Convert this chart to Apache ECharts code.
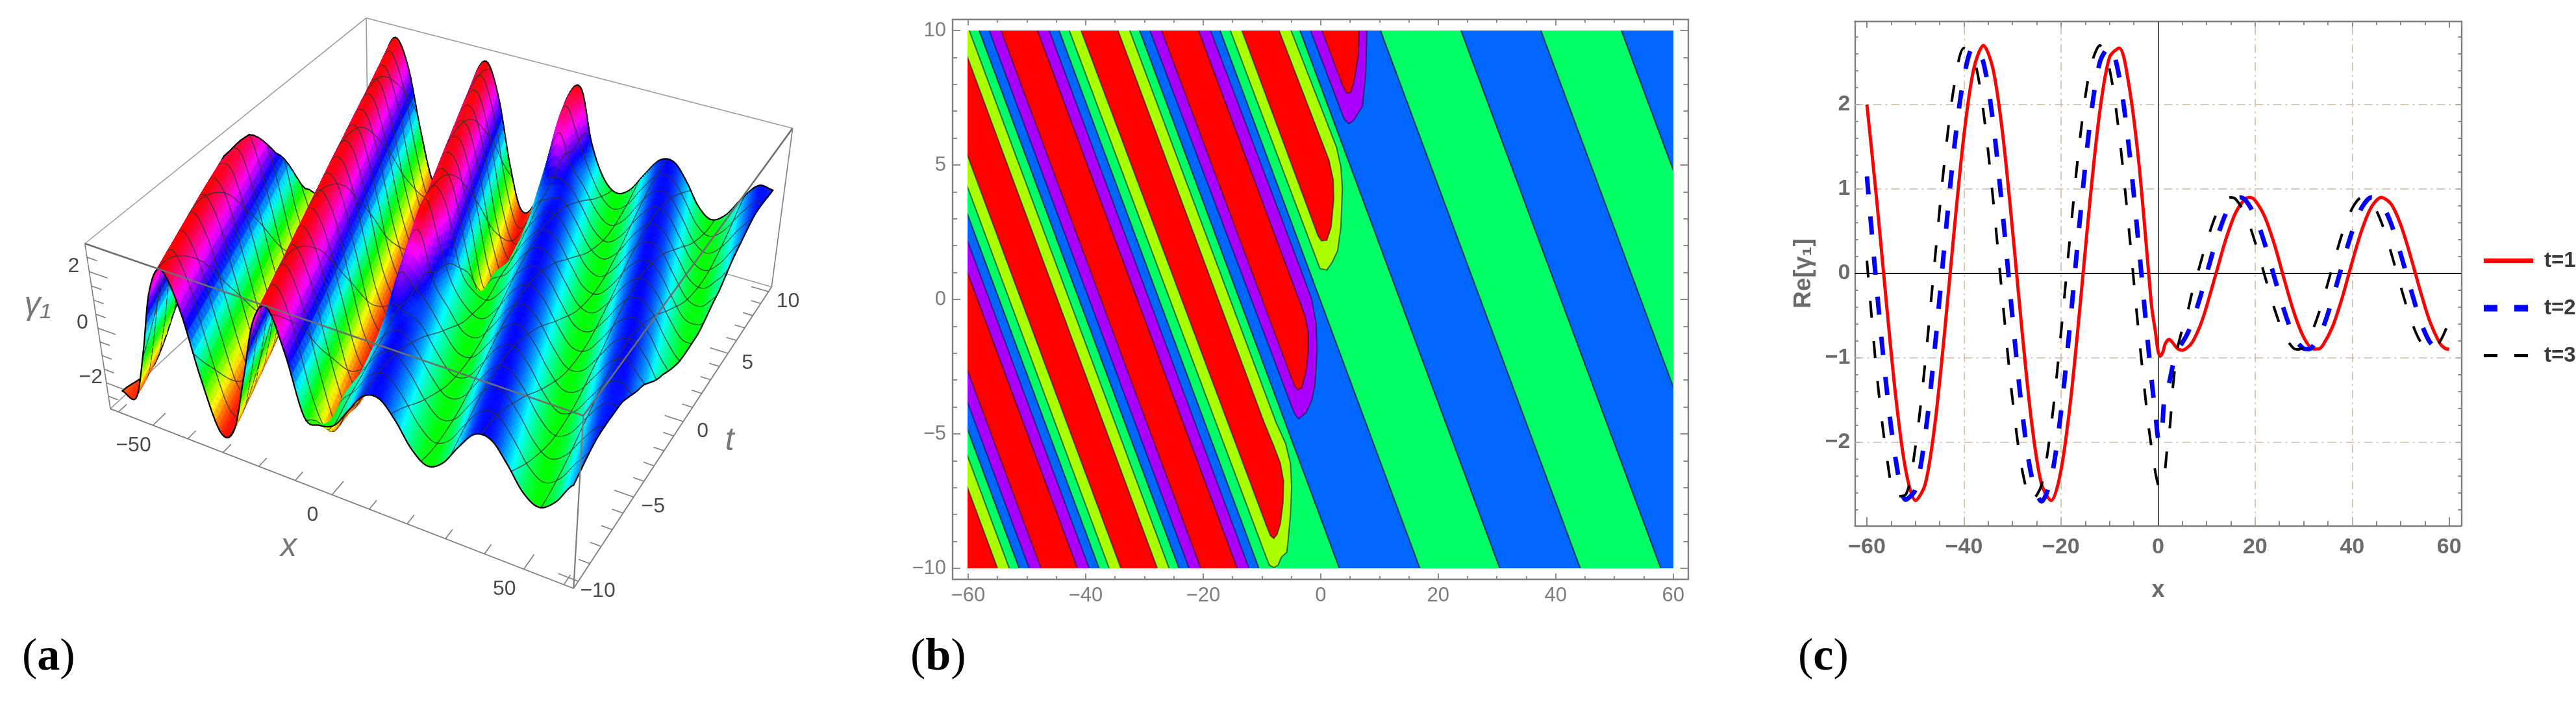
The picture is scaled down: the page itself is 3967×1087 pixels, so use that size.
<!DOCTYPE html>
<html>
<head>
<meta charset="utf-8">
<title>Figure</title>
<style>html,body{margin:0;padding:0;background:#fff}#main{width:3967px;height:1087px}</style>
<script src="https://cdn.jsdelivr.net/npm/echarts@6/dist/echarts.min.js"></script>
</head>
<body>
<div id="main"></div>
<script>
// ---------- panel (a): surface height, one row per t
var surfX = [-60,-56,-52,-48,-44,-40,-36,-32,-28,-24,-20,-16,-12,-8,-4,0,4,8,12,16,20,24,28,32,36,40,44,48,52,56,60];
var surfT = [-10,-8,-6,-4,-2,0,2,4,6,8,10];
var zTm10 = [-2.39,-2.45,-.58,1.74,2.70,1.54,-.82,-2.54,-2.27,-.22,2.00,2.65,1.23,-.78,-.88,-.68,.05,.74,.85,.30,-.50,-.90,-.60,.17,.81,.81,.18,-.59,-.90,-.50,.29];
var zTm8 = [-2.56,-.88,1.49,2.69,1.79,-.52,-2.42,-2.42,-.52,1.78,2.69,1.49,-.88,-2.39,-.75,-.05,.68,.88,.39,-.41,-.88,-.67,.07,.76,.85,.28,-.51,-.90,-.58,.19,.82];
var zTm6 = [-1.17,1.22,2.65,2.00,-.22,-2.27,-2.54,-.82,1.54,2.70,1.74,-.58,-2.45,-2.39,-.25,.61,.90,.48,-.31,-.86,-.73,-.03,.69,.88,.37,-.42,-.89,-.66,.09,.77,.84];
var zTm4 = [.94,2.58,2.20,.10,-2.08,-2.63,-1.12,1.27,2.66,1.97,-.27,-2.30,-2.52,-.77,1.27,.90,.57,-.21,-.82,-.79,-.14,.62,.89,.46,-.33,-.87,-.72,-.01,.71,.87,.35];
var zTm2 = [2.47,2.36,.40,-1.87,-2.68,-1.39,.99,2.60,2.16,.04,-2.12,-2.62,-1.06,1.33,2.67,.77,-.11,-.78,-.83,-.24,.55,.90,.55,-.23,-.83,-.78,-.12,.64,.89,.45,-.35];
var zT0 = [2.50,.71,-1.64,-2.70,-1.64,.70,2.50,2.34,.34,-1.92,-2.67,-1.34,1.05,2.61,2.13,-.02,-.72,-.87,-.33,.46,.89,.63,-.13,-.79,-.83,-.22,.56,.90,.53,-.25,-.84];
var zT2 = [1.00,-1.38,-2.68,-1.88,.40,2.36,2.47,.65,-1.69,-2.70,-1.59,.76,2.52,2.30,.28,-1.83,-.89,-.43,.37,.88,.70,-.03,-.73,-.86,-.32,.48,.90,.61,-.15,-.80,-.82];
var zT4 = [-1.11,-2.63,-2.09,.09,2.20,2.58,.94,-1.44,-2.69,-1.83,.46,2.39,2.45,.59,-1.74,-2.70,-.82,.27,.85,.76,.07,-.67,-.89,-.41,.39,.88,.68,-.05,-.74,-.85,-.30];
var zT6 = [-2.54,-2.27,-.22,2.00,2.66,1.23,-1.16,-2.64,-2.05,.15,2.23,2.56,.89,-1.48,-2.69,-1.79,.41,.81,.81,.18,-.59,-.90,-.50,.29,.85,.75,.05,-.68,-.88,-.39,.40];
var zT8 = [-2.42,-.53,1.78,2.69,1.49,-.88,-2.56,-2.24,-.16,2.04,2.64,1.17,-1.22,-2.65,-2.01,.21,2.26,1.02,.28,-.51,-.90,-.58,.19,.81,.80,.16,-.61,-.90,-.48,.31,.86];
var zT10 = [-.83,1.54,2.70,1.74,-.58,-2.45,-2.39,-.47,1.83,2.69,1.44,-.93,-2.58,-2.20,-.10,2.08,2.63,.75,-.42,-.89,-.66,.09,.77,.84,.26,-.53,-.90,-.57,.21,.82,.79];
var zRows = [zTm10,zTm8,zTm6,zTm4,zTm2,zT0,zT2,zT4,zT6,zT8,zT10];
var surfXTicks = [-60,-50,-40,-30,-20,-10,0,10,20,30,40,50,60];
var surfTTicks = [-10,-9,-8,-7,-6,-5,-4,-3,-2,-1,0,1,2,3,4,5,6,7,8,9,10];
var surfZTicks = [-2.5,-2,-1.5,-1,-.5,0,.5,1,1.5,2,2.5];
var surfXLabels = [-50,0,50];
var surfTLabels = [-10,-5,0,5,10];
var surfZLabels = [-2,0,2];

// ---------- panel (b): contour bands, x is read where the band meets t=-10
var crossings = [-65,-51.3,-37.7,-24.1,-10.5,3.2,16.9,30.5,44.2,57.9,71.5,85.2,98.8];
var stripeDrift = 1.7;
var bandInset = 1.7;
var redInset = 3.7;
var tipA = [[-7.61,-4.57],[-5.96,-5.36],[-5.15,-6.09],[-4.93,-6.98],[-5.15,-8.02],[-5.59,-9.08],[-5.77,-9.40],[-6.7,-9.59],[-7.25,-9.88],[-7.98,-9.98],[-8.72,-9.88],[-9.26,-9.59]];
var tipARed = [[-9.64,-4.57],[-7.98,-5.45],[-6.87,-6.09],[-6.32,-6.74],[-6.4,-7.54],[-6.87,-8.35],[-7.43,-8.74],[-7.98,-8.89],[-8.53,-8.79],[-9.08,-8.5]];
var tipB = [[-4.85,1.96],[-1.54,.02],[-.80,-.86],[-.62,-1.91],[-.98,-3.2],[-1.54,-3.76],[-2.45,-4.2],[-3.74,-4.44],[-4.49,-4.24]];
var tipBRed = [[-7.06,1.96],[-2.64,-.62],[-2.09,-1.26],[-2.09,-1.91],[-2.45,-2.63],[-3.19,-3.28],[-3.93,-3.36],[-4.49,-3.2]];
var tipC = [[2.70,5.66],[3.44,4.93],[3.69,4.13],[3.44,2.68],[2.88,1.80],[1.97,1.39],[1.04,1.09],[-.13,1.15]];
var tipCRed = [[1.41,5.18],[2.14,4.45],[2.22,3.73],[1.77,2.68],[1.04,2.20],[.12,2.18],[-.43,2.36]];
var tipD = [[7.9,12],[7.86,10],[7.67,8.4],[7.12,7.19],[5.65,6.67],[4.8,6.53],[3.99,6.71]];
var tipDRed = [[6.6,12],[6.56,10],[6.39,9.04],[5.65,8.07],[5.10,7.69],[4.36,7.69],[3.80,7.92]];
var bXLabels = [-60,-40,-20,0,20,40,60];
var bXMinor = [-55,-50,-45,-35,-30,-25,-15,-10,-5,5,10,15,25,30,35,45,50,55];
var bYLabels = [-10,-5,0,5,10];
var bYMinor = [-9,-8,-7,-6,-4,-3,-2,-1,1,2,3,4,6,7,8,9];

// ---------- panel (c): profiles
var t1X = [-60,-58,-56,-54,-52,-50,-48,-46,-44,-42,-40,-38,-36,-34,-32,-30,-28,-26,-24,-22,-20,-18,-16,-14,-12,-10,-8,-6,-4,-2,-1.3,-.5,0,.5,1,1.5,2.3,3,4,5,6,7,8,9,10,11,12,14,16,18,19,20,22,24,26,28,30,32,33,34,36,38,40,42,44,46,48,50,52,54,56,58,59,60];
var t1Y = [2,.88,-.34,-1.49,-2.33,-2.69,-2.5,-1.79,-.7,.52,1.64,2.42,2.7,2.42,1.64,.52,-.7,-1.79,-2.5,-2.69,-2.33,-1.49,-.34,.88,1.92,2.56,2.67,2.23,1.33,.05,-.4,-.71,-.92,-.98,-.93,-.83,-.78,-.82,-.89,-.91,-.88,-.82,-.71,-.57,-.39,-.19,.01,.41,.72,.885,.9,.866,.67,.34,-.07,-.46,-.755,-.894,-.894,-.847,-.625,-.278,.135,.516,.79,.9,.824,.578,.212,-.198,-.567,-.82,-.882,-.9];
var t2X = [-60,-58,-56,-54,-52,-50,-48,-46,-44,-42,-40,-38,-36,-34,-32,-30,-28,-26,-24,-22,-20,-18,-16,-14,-12,-10,-8,-6,-4,-2,-1,-.5,0,.5,.9,1.3,2.2,3,3.6,4.4,5,6,7,8,9,10,12,14,16,17,18,20,22,24,26,28,30,31,32,34,36,38,40,42,44,46,48,50,52,54,56,58,60];
var t2Y = [1.15,-.16,-1.33,-2.23,-2.68,-2.56,-1.92,-.88,.34,1.49,2.33,2.69,2.5,1.79,.7,-.52,-1.64,-2.42,-2.7,-2.42,-1.64,-.52,.7,1.79,2.5,2.69,2.33,1.49,.34,-.88,-1.44,-1.68,-1.95,-1.98,-1.8,-1.49,-1.32,-1.1,-.94,-.87,-.82,-.72,-.58,-.41,-.22,-.01,.39,.71,.88,.9,.87,.68,.35,-.05,-.44,-.745,-.89,-.896,-.855,-.64,-.29,.11,.496,.78,.9,.83,.595,.23,-.17,-.55,-.81,-.9,-.81];
var t3X = [-60,-58,-56,-54,-52,-50,-48,-46,-44,-42,-40,-38,-36,-34,-32,-30,-28,-26,-24,-22,-20,-18,-16,-14,-12,-10,-8,-6,-4,-2,-1.5,-1,0,.7,1.2,1.8,2.3,2.7,2.9,3.5,3.8,4.9,5.9,7,8,10,12,14,15,16,18,20,22,24,26,28,29,30,32,34,36,38,40,42,44,46,48,50,52,54,56,58,60];
var t3Y = [.15,-1.17,-2.13,-2.64,-2.62,-2.05,-1.06,.16,1.33,2.23,2.67,2.56,1.92,.88,-.34,-1.49,-2.33,-2.69,-2.5,-1.79,-.7,.52,1.64,2.42,2.7,2.42,1.64,.52,-.7,-1.79,-2,-2.2,-2.5,-2.53,-2.45,-2.12,-1.9,-1.63,-1.44,-1.1,-.94,-.68,-.5,-.23,-.03,.37,.7,.88,.9,.88,.7,.37,-.03,-.42,-.73,-.89,-.9,-.86,-.65,-.31,.09,.48,.77,.9,.84,.61,.25,-.155,-.53,-.8,-.9,-.815,-.565];
var cXLabels = [-60,-40,-20,0,20,40,60];
var cXMinor = [-55,-50,-45,-35,-30,-25,-15,-10,-5,5,10,15,25,30,35,45,50,55];
var cYLabels = [-2,-1,0,1,2];
var cYMinor = [-2.8,-2.6,-2.4,-2.2,-1.8,-1.6,-1.4,-1.2,-.8,-.6,-.4,-.2,.2,.4,.6,.8,1.2,1.4,1.6,1.8,2.2,2.4,2.6,2.8];
var cGridX = [-40,-20,20,40];
var cGridY = [-2,-1,1,2];

function minusText(v) { return String(v).replace('-', '\u2212'); }

// ---------- projection of the 3D box onto panel (a)
var boxRange = {x: 62.4, t: 10.4, z: 2.97};
var corner = {
	// name: x side, t side, z side
	l0: [170, 629.3], f0: [883.3, 906], r0: [1188.3, 441.7], b0: [567, 262],
	l1: [130.7, 375], f1: [898.3, 640], r1: [1220.6, 197.6], b1: [564, 27.7]
};
function project(x, t, z) {
	var a = (x + boxRange.x) / (2 * boxRange.x);
	var b = (t + boxRange.t) / (2 * boxRange.t);
	var c = (z + boxRange.z) / (2 * boxRange.z);
	var items = [
		[corner.l0, 0, 0, 0], [corner.f0, 1, 0, 0], [corner.b0, 0, 1, 0], [corner.r0, 1, 1, 0],
		[corner.l1, 0, 0, 1], [corner.f1, 1, 0, 1], [corner.b1, 0, 1, 1], [corner.r1, 1, 1, 1]
	];
	var sx = 0, sy = 0, sw = 0;
	for (var i = 0; i < 8; i++) {
		var it = items[i];
		var wc = 1 + 0.09 * (1 - it[1]) + 0.24 * it[2] - 0.05 * it[3];
		var k = (it[1] ? a : 1 - a) * (it[2] ? b : 1 - b) * (it[3] ? c : 1 - c) * wc;
		sx += k * it[0][0];
		sy += k * it[0][1];
		sw += k;
	}
	return [sx / sw, sy / sw];
}
function catmull(p0, p1, p2, p3, s) {
	return 0.5 * (2 * p1 + (p2 - p0) * s + (2 * p0 - 5 * p1 + 4 * p2 - p3) * s * s + (3 * p1 - p0 - 3 * p2 + p3) * s * s * s);
}
// one typed row, looked up at x
function rowAt(r, x) {
	var row = zRows[r];
	var fx = (x - surfX[0]) / 4;
	var ix = Math.max(0, Math.min(Math.floor(fx), surfX.length - 2));
	var last = surfX.length - 1;
	return catmull(row[Math.max(0, ix - 1)], row[ix], row[ix + 1], row[Math.min(last, ix + 2)], fx - ix);
}
// between rows we follow the ridges, they lean by ridgeLean in x per unit of t
var ridgeLean = 1.75;
function surfaceZ(x, t) {
	var ft = (t - surfT[0]) / 2;
	var it = Math.min(Math.floor(ft), surfT.length - 2);
	var st = ft - it, vals = [], ok = true;
	for (var j = -1; j <= 2; j++) {
		var r = Math.max(0, Math.min(surfT.length - 1, it + j));
		var xr = x + ridgeLean * (t - surfT[r]);
		if (xr < -60 || xr > 60) ok = false;
		vals.push(rowAt(r, Math.max(-60, Math.min(60, xr))));
	}
	if (ok) return catmull(vals[0], vals[1], vals[2], vals[3], st);
	// next to the plot edge one of the rows runs out, keep to the row that does not
	var xa = x + ridgeLean * (t - surfT[it]), xb = x + ridgeLean * (t - surfT[it + 1]);
	var okA = xa >= -60 && xa <= 60, okB = xb >= -60 && xb <= 60;
	if (okA && okB) return vals[1] + (vals[2] - vals[1]) * st;
	return okA ? vals[1] : vals[2];
}
function hsv(h, s, v) {
	h = ((h % 360) + 360) % 360;
	var c = v * s, m = v - c, q = c * (1 - Math.abs((h / 60) % 2 - 1));
	var rgb = h < 60 ? [c, q, 0] : h < 120 ? [q, c, 0] : h < 180 ? [0, c, q] : h < 240 ? [0, q, c] : h < 300 ? [q, 0, c] : [c, 0, q];
	return 'rgb(' + rgb.map(function (n) { return Math.round((n + m) * 255); }).join(',') + ')';
}

// cell diagonal runs along the ridges: 120/224 in x per 20/64 in t
var stepsX = 224, stepsT = 64;
var meshEveryX = 14, meshEveryT = 4;
var stepX = 120 / stepsX, stepT = 20 / stepsT;
var surfZ = [], surfV = [], facets = [];
for (var jt = 0; jt <= stepsT; jt++) {
	surfZ.push([]); surfV.push([]);
	for (var ix = 0; ix <= stepsX; ix++) {
		var px = -60 + stepX * ix, pt = -10 + stepT * jt;
		var pz = surfaceZ(px, pt);
		surfZ[jt].push(pz);
		surfV[jt].push(project(px, pt, pz));
	}
}
// far corner first, so nearer facets paint over
for (var ft = stepsT - 1; ft >= 0; ft--) {
	for (var fx = 0; fx < stepsX; fx++) facets.push([fx, ft]);
}
function facetColor(z, lit) {
	return hsv(180 + 66.67 * z, 1, 0.92 + 0.08 * Math.min(1, lit + 0.25));
}
function renderFacet(params, api) {
	var ix = api.value(0), it = api.value(1);
	var a = api.coord(surfV[it + 1][ix]), b = api.coord(surfV[it + 1][ix + 1]);
	var c = api.coord(surfV[it][ix + 1]), d = api.coord(surfV[it][ix]);
	var za = surfZ[it + 1][ix], zb = surfZ[it + 1][ix + 1], zc = surfZ[it][ix + 1], zd = surfZ[it][ix];
	var dzx = (zc + zb - zd - za) / 2 / stepX;
	var dzt = (za + zb - zd - zc) / 2 / stepT;
	var lit = 1 / Math.sqrt(1 + dzx * dzx * 4 + dzt * dzt * 0.3);
	var col1 = facetColor((za + zb + zc) / 3, lit), col2 = facetColor((za + zc + zd) / 3, lit);
	var kids = [
		{type: 'polygon', shape: {points: [a, b, c]}, style: {fill: col1, stroke: col1, lineWidth: 0.7}},
		{type: 'polygon', shape: {points: [a, c, d]}, style: {fill: col2, stroke: col2, lineWidth: 0.7}}
	];
	function edge(p, q, color, w) {
		kids.push({type: 'line', shape: {x1: p[0], y1: p[1], x2: q[0], y2: q[1]}, style: {stroke: color, lineWidth: w, lineCap: 'round'}});
	}
	if (ix % meshEveryX === 0 && ix > 0) edge(a, d, 'rgba(50,50,50,0.85)', 1.4);
	if ((it + 1) % meshEveryT === 0 && it + 1 < stepsT) edge(a, b, 'rgba(50,50,50,0.85)', 1.4);
	if (ix === 0) edge(a, d, '#000', 2.2);
	if (ix === stepsX - 1) edge(b, c, '#000', 2.2);
	if (it === 0) edge(c, d, '#000', 2.2);
	if (it === stepsT - 1) edge(a, b, '#000', 2.2);
	return {type: 'group', children: kids};
}
function boxSeg(api, p, q, color, w) {
	var a = api.coord(p), b = api.coord(q);
	return {type: 'line', shape: {x1: a[0], y1: a[1], x2: b[0], y2: b[1]}, style: {stroke: color, lineWidth: w}};
}
function renderBoxBack(params, api) {
	var c = corner, s = '#9a9a9a';
	return {type: 'group', children: [
		boxSeg(api, c.l1, c.b1, s, 1.6), boxSeg(api, c.b1, c.r1, s, 1.6), boxSeg(api, c.b0, c.b1, s, 1.6),
		boxSeg(api, c.l0, c.b0, s, 1.6), boxSeg(api, c.b0, c.r0, s, 1.6)
	]};
}
function boxText(api, text, p, font, color) {
	var a = api.coord(p);
	return {type: 'text', style: {text: text, x: a[0], y: a[1], font: font, fill: color, textAlign: 'center', textVerticalAlign: 'middle'}};
}
function renderBoxFront(params, api) {
	var c = corner, s = '#7d7d7d', kids = [];
	kids.push(boxSeg(api, c.l1, c.f1, '#6e6e6e', 2.6), boxSeg(api, c.f1, c.r1, '#6e6e6e', 2.6), boxSeg(api, c.f0, c.f1, '#7a7a7a', 2.2));
	kids.push(boxSeg(api, c.l0, c.l1, s, 1.6), boxSeg(api, c.r0, c.r1, s, 1.6), boxSeg(api, c.l0, c.f0, s, 1.8), boxSeg(api, c.f0, c.r0, s, 1.8));
	var i, v, len;
	for (i = 0; i < surfXTicks.length; i++) {
		v = surfXTicks[i];
		len = surfXLabels.indexOf(v) >= 0 ? 0.85 : 0.55;
		kids.push(boxSeg(api, project(v, -boxRange.t, -boxRange.z), project(v, -boxRange.t + len, -boxRange.z), s, 1.6));
	}
	for (i = 0; i < surfTTicks.length; i++) {
		v = surfTTicks[i];
		len = surfTLabels.indexOf(v) >= 0 ? 5 : 2.8;
		kids.push(boxSeg(api, project(boxRange.x, v, -boxRange.z), project(boxRange.x - len, v, -boxRange.z), s, 1.6));
	}
	for (i = 0; i < surfZTicks.length; i++) {
		v = surfZTicks[i];
		len = surfZLabels.indexOf(v) >= 0 ? 5 : 2.8;
		kids.push(boxSeg(api, project(-boxRange.x, -boxRange.t, v), project(-boxRange.x + len, -boxRange.t, v), s, 1.6));
	}
	var num = '32px "Liberation Sans"', ink = '#4a4a4a';
	surfXLabels.forEach(function (n) {
		var p = project(n, -boxRange.t, -boxRange.z);
		kids.push(boxText(api, minusText(n), [p[0] - 30, p[1] + 31], num, ink));
	});
	surfTLabels.forEach(function (n) {
		var p = project(boxRange.x, n, -boxRange.z);
		kids.push(boxText(api, minusText(n), [p[0] + 30, p[1] + 15], num, ink));
	});
	surfZLabels.forEach(function (n) {
		var p = project(-boxRange.x, -boxRange.t, n);
		kids.push(boxText(api, minusText(n), [p[0] - 24, p[1] - 8], num, ink));
	});
	var nameFont = 'italic 50px "Liberation Sans"', nameInk = '#777';
	kids.push(boxText(api, 'x', [444.6, 842], nameFont, nameInk));
	kids.push(boxText(api, 't', [1123.7, 679], nameFont, nameInk));
	kids.push(boxText(api, '\u03b3\u2081', [58, 470], nameFont, nameInk));
	return {type: 'group', children: kids};
}

// ---------- contour polygons for panel (b)
function driftX(x0, t) { return x0 - stripeDrift * (t + 10); }
function bandPoly(x0L, x0R, tip) {
	var pts = [[driftX(x0L, 12), 12]];
	if (tip) pts = pts.concat(tip.slice().reverse());
	else pts.push([driftX(x0L, -12), -12], [driftX(x0R, -12), -12]);
	pts.push([driftX(x0R, 12), 12]);
	return pts;
}
var tipOf = {4: [tipA, tipARed], 5: [tipB, tipBRed], 6: [tipC, tipCRed], 7: [tipD, tipDRed]};
var green = '#00ff66', blue = '#0066ff', yellow = '#aaff00', purple = '#aa00ff', red = '#ff0000';
var polyPts = [], polyCol = [];
for (var s = 0; s < crossings.length - 1; s++) {
	polyPts.push(bandPoly(crossings[s], crossings[s + 1]));
	polyCol.push(s % 2 === 0 ? green : blue);
}
for (s = 0; s <= 7; s++) {
	var tips = tipOf[s] || [null, null];
	polyPts.push(bandPoly(crossings[s] + bandInset, crossings[s + 1] - bandInset, tips[0]));
	polyCol.push(s % 2 === 0 ? yellow : purple);
	polyPts.push(bandPoly(crossings[s] + redInset, crossings[s + 1] - redInset, tips[1]));
	polyCol.push(red);
}
function renderContour(params, api) {
	var i = api.value(0);
	return {
		type: 'polygon',
		shape: {points: polyPts[i].map(function (p) { return api.coord(p); })},
		style: {fill: polyCol[i], stroke: 'rgba(20,20,40,0.62)', lineWidth: 2}
	};
}

// ---------- axes
var gridA = {left: 0, top: 0, width: 1320, height: 1087};
var bFrame = {left: 1467, top: 30, width: 1132.5, height: 862};
var bPlot = {left: 1490.9, top: 47, width: 1085.8, height: 828};
var cFrame = {left: 2856.5, top: 32.7, width: 933.9, height: 776.6};
var grids = [gridA, bPlot, bFrame, bFrame, cFrame, cFrame];
var xAxes = [
	{gridIndex: 0, type: 'value', min: 0, max: 1320, show: false},
	{gridIndex: 1, type: 'value', min: -60, max: 60, show: false}
];
var yAxes = [
	{gridIndex: 0, type: 'value', min: 0, max: 1087, inverse: true, show: false},
	{gridIndex: 1, type: 'value', min: -10, max: 10, show: false}
];
function sideAxis(grid, pos, range, ticks, tickLen, col, lineW, label) {
	var ax = {
		gridIndex: grid, type: 'value', position: pos, min: range[0], max: range[1], scale: true,
		axisLine: {show: lineW > 0, onZero: false, lineStyle: {color: col, width: lineW}},
		axisTick: {show: true, inside: true, length: tickLen, customValues: ticks, lineStyle: {color: col, width: 1.8}},
		axisLabel: label ? Object.assign({customValues: ticks, formatter: function (v) { return minusText(v); }}, label) : {show: false},
		splitLine: {show: false}
	};
	return ax;
}
var bRx = [-62.64, 62.52], bRy = [-10.41, 10.41];
var bLabelStyle = {fontFamily: 'Liberation Sans', fontSize: 31, color: '#7d7d7d', margin: 10};
xAxes.push(
	sideAxis(2, 'bottom', bRx, bXLabels, 9, '#808080', 2.4, bLabelStyle),
	sideAxis(2, 'top', bRx, bXLabels, 9, '#808080', 2.4),
	sideAxis(3, 'bottom', bRx, bXMinor, 5, '#808080', 0),
	sideAxis(3, 'top', bRx, bXMinor, 5, '#808080', 0)
);
yAxes.push(
	sideAxis(2, 'left', bRy, bYLabels, 12, '#808080', 2.4, bLabelStyle),
	sideAxis(2, 'right', bRy, bYLabels, 12, '#808080', 2.4),
	sideAxis(3, 'left', bRy, bYMinor, 7, '#808080', 0),
	sideAxis(3, 'right', bRy, bYMinor, 7, '#808080', 0)
);
var cRx = [-62.48, 62.5], cRy = [-2.987, 2.987];
var cFont = 'Liberation Sans';
var cLabelStyle = {fontFamily: cFont, fontWeight: 'bold', fontSize: 34, color: '#6b6b6b', margin: 16};
var cx0 = sideAxis(4, 'bottom', cRx, cXLabels, 13, '#7d7d7d', 2.4, cLabelStyle);
cx0.name = 'x';
cx0.nameLocation = 'middle';
cx0.nameGap = 82;
cx0.nameTextStyle = {fontFamily: cFont, fontWeight: 'bold', fontSize: 36, color: '#6b6b6b'};
var cy0 = sideAxis(4, 'left', cRy, cYLabels, 8, '#7d7d7d', 2.4, Object.assign({}, cLabelStyle, {margin: 7}));
cy0.name = 'Re[\u03b3\u2081]';
cy0.nameLocation = 'middle';
cy0.nameRotate = 90;
cy0.nameGap = 60;
cy0.nameTextStyle = {fontFamily: cFont, fontWeight: 'bold', fontSize: 37, color: '#6b6b6b'};
xAxes.push(
	cx0,
	sideAxis(4, 'top', cRx, cXLabels, 10, '#7d7d7d', 2.4),
	sideAxis(5, 'bottom', cRx, cXMinor, 7, '#7d7d7d', 0),
	sideAxis(5, 'top', cRx, cXMinor, 6, '#7d7d7d', 0)
);
yAxes.push(
	cy0,
	sideAxis(4, 'right', cRy, cYLabels, 8, '#7d7d7d', 2.4),
	sideAxis(5, 'left', cRy, cYMinor, 5, '#7d7d7d', 0),
	sideAxis(5, 'right', cRy, cYMinor, 5, '#7d7d7d', 0)
);

function zipXY(xs, ys) {
	return xs.map(function (x, i) { return [x, ys[i]]; });
}
var dashGrid = {color: '#cdb8a0', width: 1.6, type: [13, 6, 3, 6]};
var gridLines = [];
cGridX.forEach(function (v) { gridLines.push({xAxis: v, lineStyle: dashGrid}); });
cGridY.forEach(function (v) { gridLines.push({yAxis: v, lineStyle: dashGrid}); });
gridLines.push({xAxis: 0, lineStyle: {color: '#555', width: 2, type: 'solid'}});
gridLines.push({yAxis: 0, lineStyle: {color: '#111', width: 2, type: 'solid'}});

var cXIdx = 6, cYIdx = 6;
var panelTag = {font: '70px "Liberation Serif"', fill: '#000', rich: {b: {font: 'bold 70px "Liberation Serif"', fill: '#000'}}};
var option = {
	animation: false,
	backgroundColor: '#fff',
	grid: grids,
	xAxis: xAxes,
	yAxis: yAxes,
	legend: {
		orient: 'vertical',
		left: 3815,
		top: 380,
		itemWidth: 76,
		itemHeight: 12,
		itemGap: 40,
		selectedMode: false,
		itemStyle: {opacity: 0},
		textStyle: {fontFamily: cFont, fontWeight: 'bold', fontSize: 33, color: '#3a3a3a', padding: [0, 0, 0, 12]},
		data: [
			{name: 't=1', lineStyle: {width: 7}},
			{name: 't=2', lineStyle: {width: 10, type: [21, 26]}},
			{name: 't=3', lineStyle: {width: 5, type: [21, 26]}}
		]
	},
	graphic: [
		{type: 'text', left: 34, top: 978, style: Object.assign({text: '({b|a})'}, panelTag)},
		{type: 'text', left: 1402, top: 978, style: Object.assign({text: '({b|b})'}, panelTag)},
		{type: 'text', left: 2769, top: 978, style: Object.assign({text: '({b|c})'}, panelTag)}
	],
	series: [
		{type: 'custom', name: 'box-back', xAxisIndex: 0, yAxisIndex: 0, renderItem: renderBoxBack, data: [[0]], silent: true, z: 1},
		{type: 'custom', name: 'surface', xAxisIndex: 0, yAxisIndex: 0, renderItem: renderFacet, data: facets, silent: true, z: 2, progressive: 0},
		{type: 'custom', name: 'box-front', xAxisIndex: 0, yAxisIndex: 0, renderItem: renderBoxFront, data: [[0]], silent: true, z: 3},
		{type: 'custom', name: 'contour', xAxisIndex: 1, yAxisIndex: 1, renderItem: renderContour, clip: true, silent: true, progressive: 0,
			data: polyPts.map(function (p, i) { return [i]; })},
		{type: 'line', name: 't=1', xAxisIndex: cXIdx, yAxisIndex: cYIdx, data: zipXY(t1X, t1Y), symbol: 'none', smooth: 0.3,
			lineStyle: {color: '#ff0000', width: 5}, itemStyle: {color: '#ff0000'},
			markLine: {silent: true, symbol: 'none', z: 1, label: {show: false}, data: gridLines, animation: false}},
		{type: 'line', name: 't=2', xAxisIndex: cXIdx, yAxisIndex: cYIdx, data: zipXY(t2X, t2Y), symbol: 'none', smooth: 0.3,
			lineStyle: {color: '#0000ff', width: 7, type: [28, 34]}, itemStyle: {color: '#0000ff'}},
		{type: 'line', name: 't=3', xAxisIndex: cXIdx, yAxisIndex: cYIdx, data: zipXY(t3X, t3Y), symbol: 'none', smooth: 0.3,
			lineStyle: {color: '#000000', width: 4, type: [26, 36]}, itemStyle: {color: '#000000'}}
	]
};
var chart = echarts.init(document.getElementById('main'));
chart.setOption(option);
</script>
</body>
</html>
